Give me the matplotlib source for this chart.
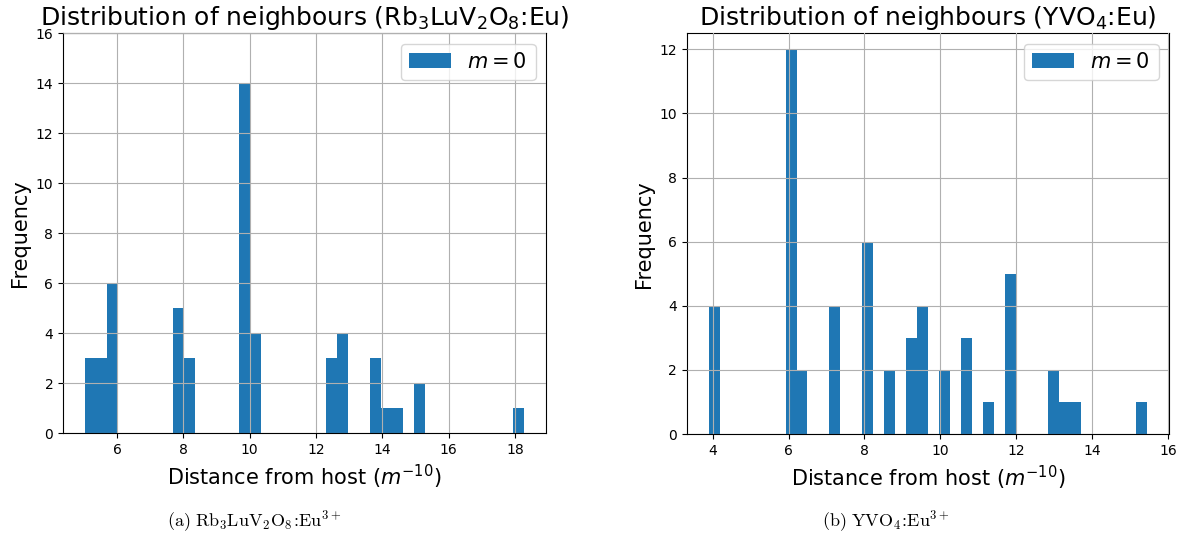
import numpy as np
import matplotlib
matplotlib.use('Agg')
import matplotlib.pyplot as plt

# Bin counts (40 bins each)
rb_range = (5.03, 18.28)
rb_counts = [3, 3, 6, 0, 0, 0, 0, 0, 5, 3,
             0, 0, 0, 0, 14, 4, 0, 0, 0, 0,
             0, 0, 3, 4, 0, 0, 3, 1, 1, 0,
             2, 0, 0, 0, 0, 0, 0, 0, 0, 1]

yvo_range = (3.90, 15.45)
yvo_counts = [4, 0, 0, 0, 0, 0, 0, 12, 2, 0,
              0, 4, 0, 0, 6, 0, 2, 0, 3, 4,
              0, 2, 0, 3, 0, 1, 0, 5, 0, 0,
              0, 2, 1, 1, 0, 0, 0, 0, 0, 1]

titles = ['Distribution of neighbours (Rb$_3$LuV$_2$O$_8$:Eu)',
          'Distribution of neighbours (YVO$_4$:Eu)']
captions = [r'$\mathrm{(a)\ Rb_3LuV_2O_8}\!:\!\mathrm{Eu^{3+}}$',
            r'$\mathrm{(b)\ YVO_4}\!:\!\mathrm{Eu^{3+}}$']

fig = plt.figure(figsize=(11.85, 5.4), dpi=100)
ax1 = fig.add_axes([0.0532, 0.198, 0.4076, 0.7407])
ax2 = fig.add_axes([0.5797, 0.196, 0.4068, 0.7426])

panels = [(ax1, rb_range, rb_counts, 16, 2),
          (ax2, yvo_range, yvo_counts, 12.5, 2)]

for i, (ax, rng, counts, ytop, ystep) in enumerate(panels):
    edges = np.linspace(rng[0], rng[1], len(counts) + 1)
    ax.hist(edges[:-1], bins=edges, weights=counts, color='#1f77b4',
            label='$m = 0$', zorder=2)
    ax.set_ylim(0, ytop)
    ax.set_yticks(np.arange(0, int(ytop) + 1, ystep))
    ax.grid(True, color='#b0b0b0', linewidth=0.8, zorder=0)
    ax.set_axisbelow(False)
    ax.set_title(titles[i], fontsize=18)
    ax.set_xlabel('Distance from host ($m^{-10}$)', fontsize=15)
    ax.set_ylabel('Frequency', fontsize=15)
    ax.tick_params(labelsize=10)
    ax.legend(loc='upper right', fontsize=15)

fig.text(0.2143, 0.035, captions[0], ha='center', va='center',
         fontsize=13, math_fontfamily='cm')
fig.text(0.7477, 0.035, captions[1], ha='center', va='center',
         fontsize=13, math_fontfamily='cm')

fig.savefig('out.png', dpi=100)
